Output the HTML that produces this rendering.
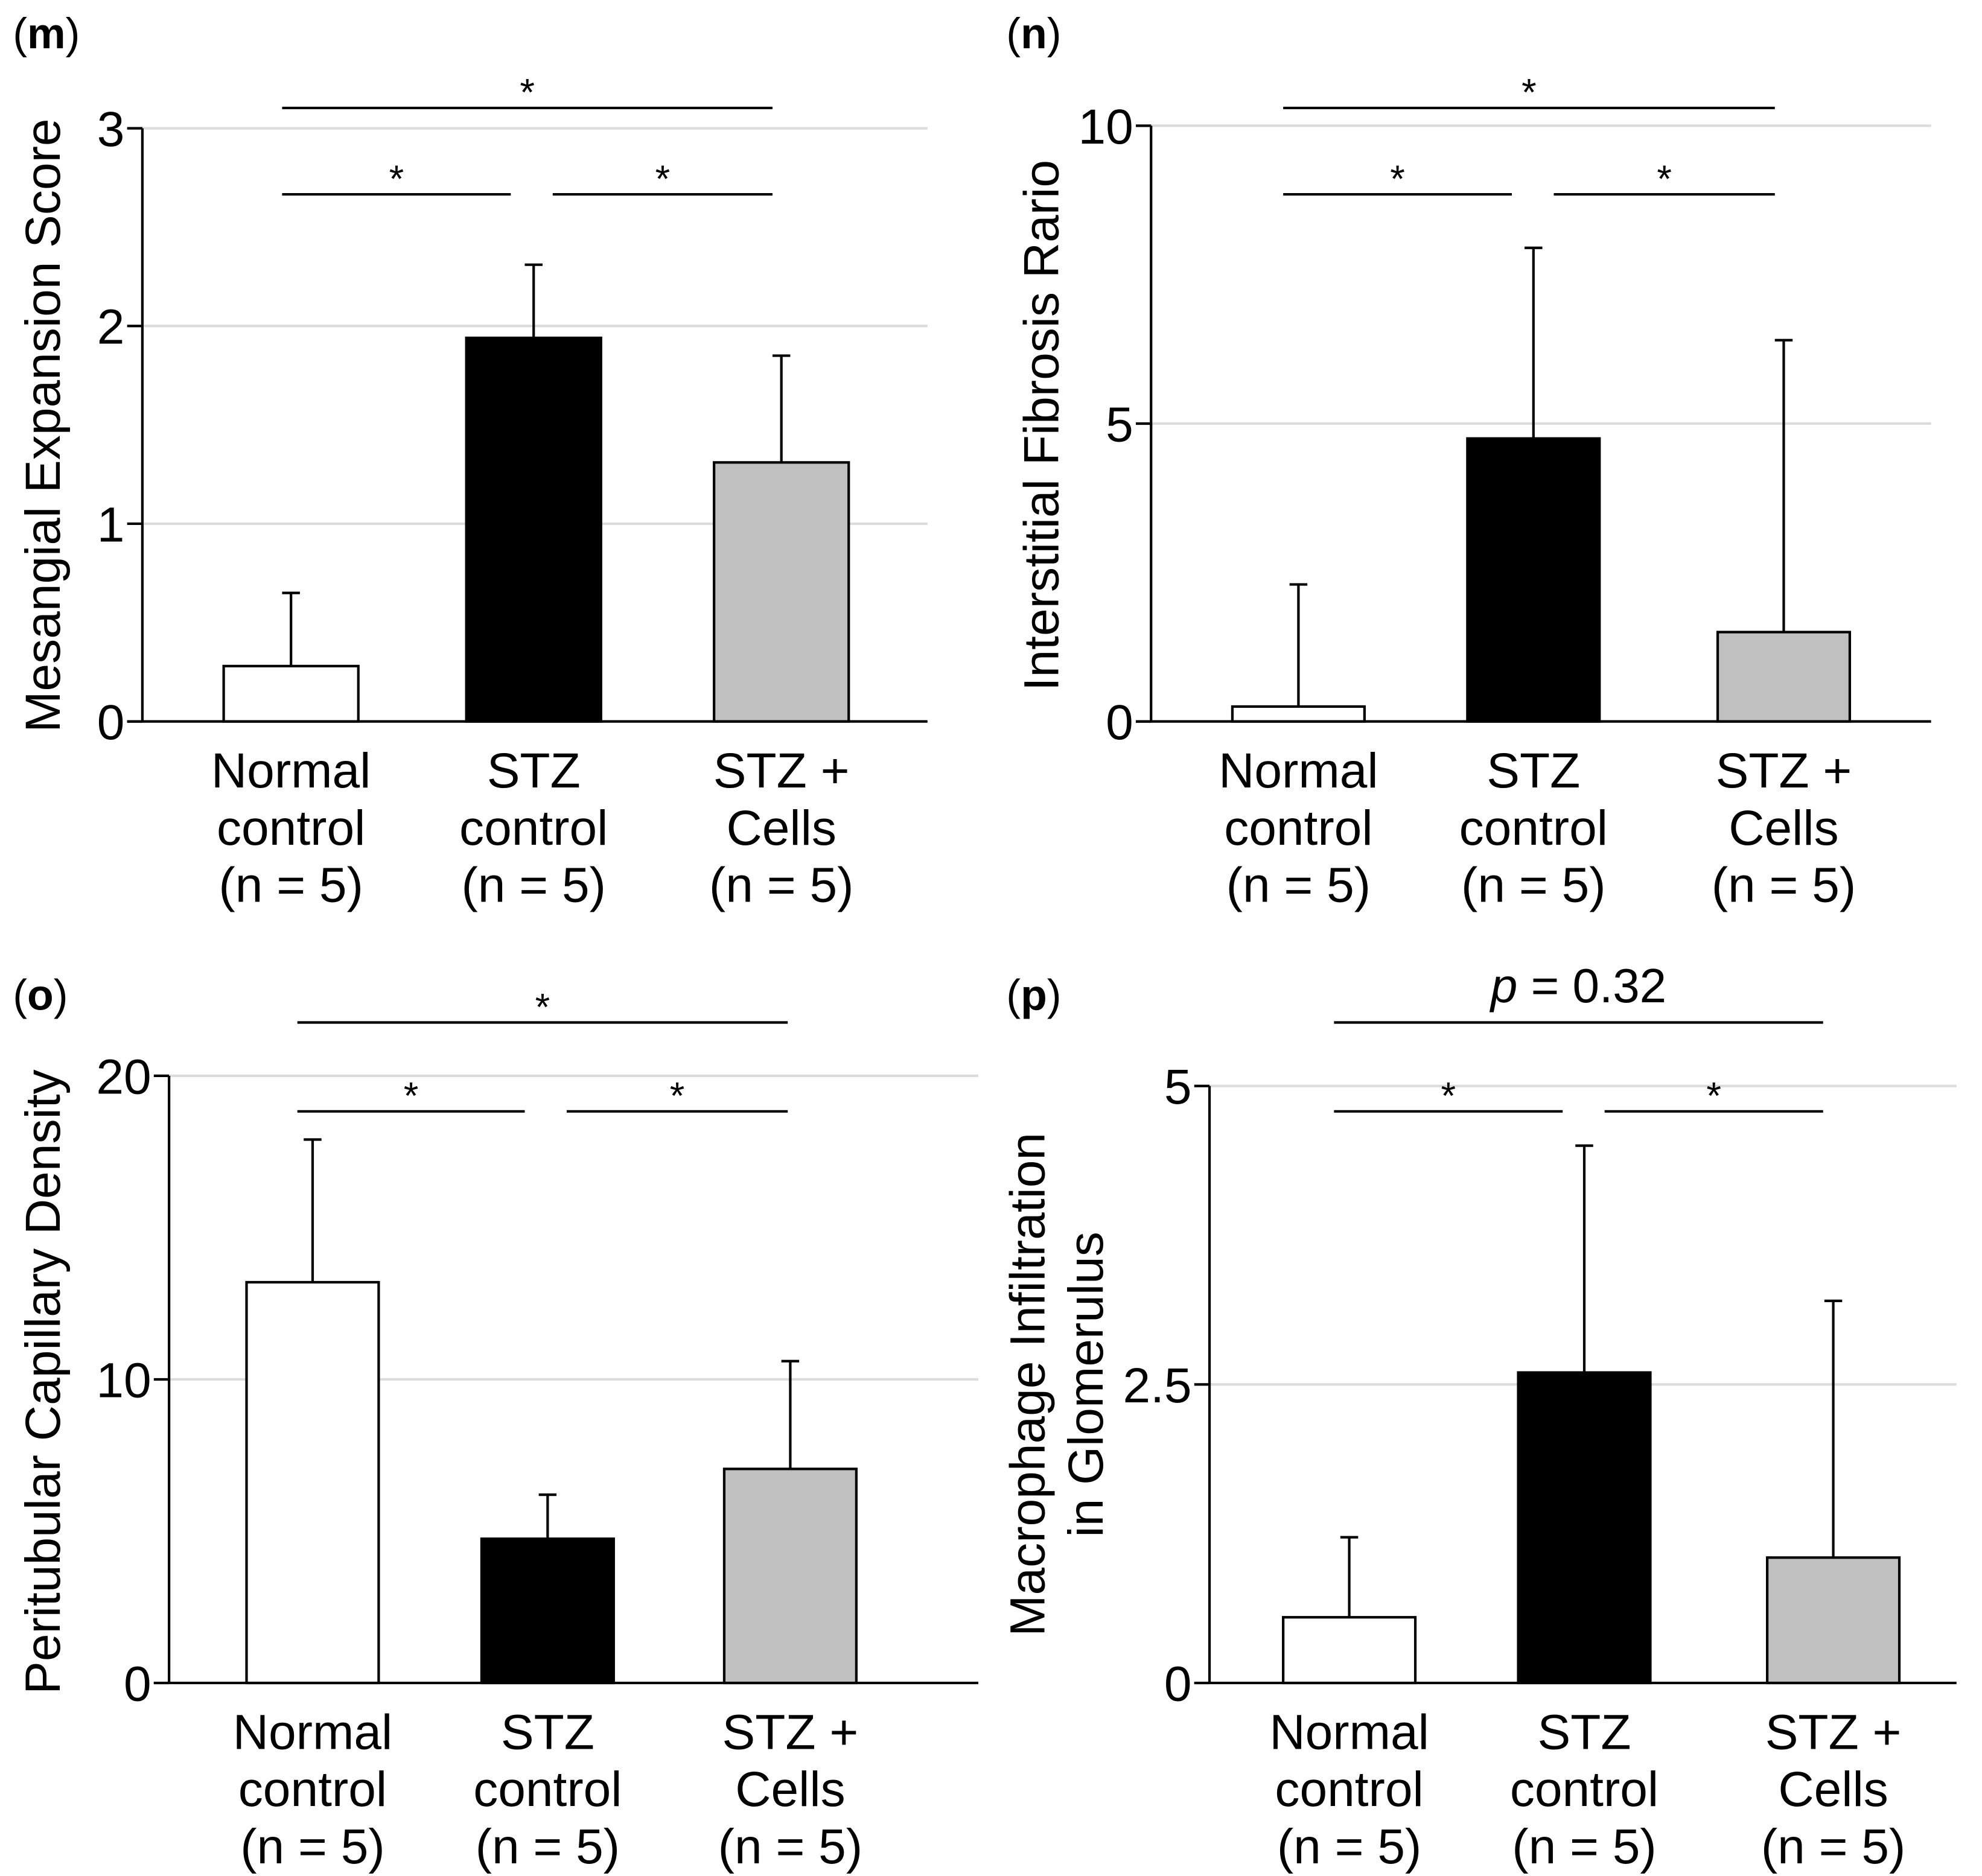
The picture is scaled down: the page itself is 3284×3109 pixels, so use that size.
<!DOCTYPE html>
<html><head><meta charset="utf-8"><style>
html,body{margin:0;padding:0;background:#fff;}
svg{display:block;}
text{font-family:"Liberation Sans",sans-serif;fill:#000;}
</style></head><body>
<svg id="fig" width="3284" height="3109" viewBox="0 0 1560 1477" xmlns="http://www.w3.org/2000/svg"></svg>
<script>
const categories = [["Normal","control","(n = 5)"],["STZ","control","(n = 5)"],["STZ +","Cells","(n = 5)"]];
const mValues = [0.28, 1.94, 1.31];
const mErrors = [0.65, 2.31, 1.85];
const mTicks = [0, 1, 2, 3];
const nValues = [0.25, 4.75, 1.5];
const nErrors = [2.3, 7.95, 6.4];
const nTicks = [0, 5, 10];
const oValues = [13.2, 4.75, 7.05];
const oErrors = [17.9, 6.2, 10.6];
const oTicks = [0, 10, 20];
const pValues = [0.55, 2.6, 1.05];
const pErrors = [1.22, 4.5, 3.2];
const pTicks = [0, 2.5, 5];
const fills = ["#ffffff","#000000","#c0c0c0"];

const svg = document.getElementById('fig');
const NS = "http://www.w3.org/2000/svg";
function mk(tag, attrs, parent){
  const e = document.createElementNS(NS, tag);
  for (const k in attrs) e.setAttribute(k, attrs[k]);
  (parent||svg).appendChild(e);
  return e;
}
function panel(cfg){
  const g = mk('g', {});
  
  
  const yMax = cfg.ticks[cfg.ticks.length-1];
  const y = v => cfg.y0 - (v / yMax) * (cfg.y0 - cfg.yTop);
  const pl = mk('text', {x: cfg.lx, y: cfg.ly, 'font-size': 34}, g);
  
  
  pl.innerHTML = '(<tspan font-weight="bold">' + cfg.id + '</tspan>)';
  cfg.ticks.forEach(t => {
    if (t > 0) {
      const gl = mk('line', {x1: cfg.ax, x2: cfg.axEnd, y1: y(t), y2: y(t), stroke: '#dcdcdc', 'stroke-width': 2}, g);
      
      
    }
    const tk = mk('line', {x1: cfg.ax - 12, x2: cfg.ax, y1: y(t), y2: y(t), stroke: '#000', 'stroke-width': 2}, g);
    
    
    const tl = mk('text', {x: cfg.ax - 14, y: y(t) + 14, 'font-size': 39, 'text-anchor': 'end'}, g);
    
    
    tl.textContent = String(t);
  });
  cfg.values.forEach((v, i) => {
    const cx = cfg.cx[i];
    const eb = mk('line', {x1: cx, x2: cx, y1: y(v), y2: y(cfg.errors[i]), stroke: '#000', 'stroke-width': 2}, g);
    
    
    const ec = mk('line', {x1: cx - 7, x2: cx + 7, y1: y(cfg.errors[i]), y2: y(cfg.errors[i]), stroke: '#000', 'stroke-width': 2}, g);
    
    
    const r = mk('rect', {x: cx - cfg.bw/2, y: y(v), width: cfg.bw, height: cfg.y0 - y(v), fill: fills[i], stroke: '#000', 'stroke-width': 2}, g);
    
    
    categories[i].forEach((line, j) => {
      const t = mk('text', {x: cx, y: cfg.y0 + 52 + j*45, 'font-size': 39, 'text-anchor': 'middle'}, g);
      
      
      t.textContent = line;
    });
  });
  const ya = mk('line', {x1: cfg.ax, x2: cfg.ax, y1: cfg.yTop, y2: cfg.y0, stroke: '#000', 'stroke-width': 2}, g);
  
  
  const xa = mk('line', {x1: cfg.ax - 12, x2: cfg.axEnd, y1: cfg.y0, y2: cfg.y0, stroke: '#000', 'stroke-width': 2}, g);
  
  
  cfg.title.forEach((line, j) => {
    const tx = cfg.tx + j * 46;
    const t = mk('text', {x: tx, y: cfg.ty, 'font-size': 39, 'text-anchor': 'middle', transform: 'rotate(-90 ' + tx + ' ' + cfg.ty + ')'}, g);
    
    
    t.textContent = line;
  });
  cfg.sig.forEach(s => {
    const l = mk('line', {x1: s[0], x2: s[1], y1: s[2], y2: s[2], stroke: '#000', 'stroke-width': 2}, g);
    
    
    const t = mk('text', {x: (s[0]+s[1])/2, y: s[2] + (s[3] === '*' ? -2 : -16), 'font-size': s[3] === '*' ? 30 : 38, 'text-anchor': 'middle'}, g);
    
    
    if (s[3] === '*') t.textContent = '*';
    else t.innerHTML = '<tspan font-style="italic">p</tspan> = 0.32';
  });
}
panel({id:'m', lx:10, ly:38, ax:112, axEnd:730, y0:568, yTop:101, ticks:mTicks, values:mValues, errors:mErrors,
  cx:[229,420,615], bw:106, title:['Mesangial Expansion Score'], tx:47, ty:335,
  sig:[[222,608,85,'*'],[222,402,153,'*'],[435,608,153,'*']]});
panel({id:'n', lx:792, ly:38, ax:906, axEnd:1520, y0:568, yTop:99, ticks:nTicks, values:nValues, errors:nErrors,
  cx:[1022,1207,1404], bw:104, title:['Interstitial Fibrosis Rario'], tx:833, ty:335,
  sig:[[1010,1397,85,'*'],[1010,1190,153,'*'],[1223,1397,153,'*']]});
panel({id:'o', lx:10, ly:795, ax:133, axEnd:770, y0:1325, yTop:847, ticks:oTicks, values:oValues, errors:oErrors,
  cx:[246,431,622], bw:104, title:['Peritubular Capillary Density'], tx:47, ty:1088,
  sig:[[234,620,805,'*'],[234,413,875,'*'],[446,620,875,'*']]});
panel({id:'p', lx:792, ly:795, ax:952, axEnd:1540, y0:1325, yTop:855, ticks:pTicks, values:pValues, errors:pErrors,
  cx:[1062,1247,1443], bw:104, title:['Macrophage Infiltration','in Glomerulus'], tx:822, ty:1090,
  sig:[[1050,1435,805,'p'],[1050,1230,875,'*'],[1263,1435,875,'*']]});
</script>
</body></html>
